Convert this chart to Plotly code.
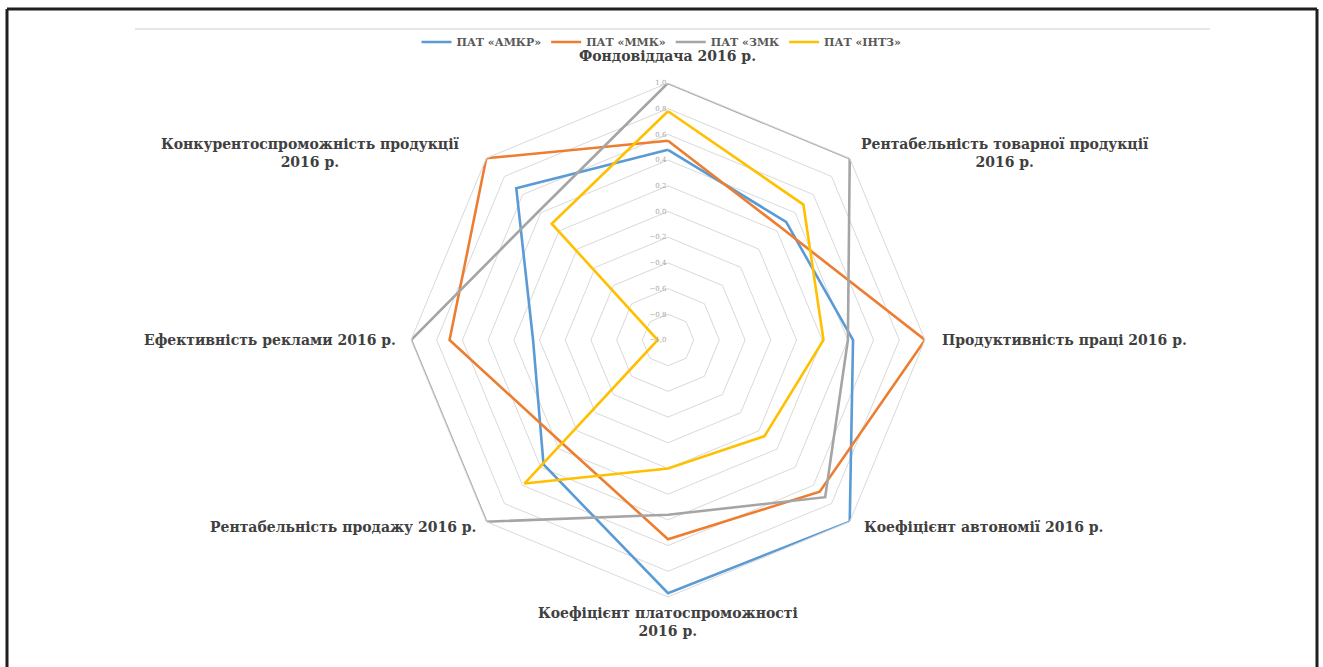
import plotly.graph_objects as go

# Indicator names (axes of the radar), clockwise from the top
categories = [
    "Фондовіддача 2016 р.",
    "Рентабельність товарної продукції\n2016 р.",
    "Продуктивність праці 2016 р.",
    "Коефіцієнт автономії 2016 р.",
    "Коефіцієнт платоспроможності\n2016 р.",
    "Рентабельність продажу 2016 р.",
    "Ефективність реклами 2016 р.",
    "Конкурентоспроможність продукції\n2016 р.",
]

series_names = ["ПАТ «АМКР»", "ПАТ «ММК»", "ПАТ «ЗМК", "ПАТ «ІНТЗ»"]

amkr = [0.48, 0.30, 0.44, 1.00, 0.97, 0.37, 0.05, 0.67]
mmk = [0.55, 0.24, 1.00, 0.67, 0.55, 0.15, 0.70, 1.00]
zmk = [1.00, 1.00, 0.40, 0.73, 0.36, 1.00, 1.00, 0.42]
intz = [0.78, 0.49, 0.21, 0.06, 0.00, 0.58, -0.92, 0.28]

radial_ticks = [-1.0, -0.8, -0.6, -0.4, -0.2, 0.0, 0.2, 0.4, 0.6, 0.8, 1.0]

colors = ["#5b9bd5", "#ed7d31", "#a5a5a5", "#ffc000"]

W, H = 1323, 667
SERIF = "DejaVu Serif"

fig = go.Figure()
theta = [c.replace("\n", " ") for c in categories]
for name, vals, col in zip(series_names, [amkr, mmk, zmk, intz], colors):
    fig.add_trace(go.Scatterpolar(
        r=vals + vals[:1],
        theta=theta + theta[:1],
        mode="lines",
        name=name,
        line=dict(color=col, width=2.6),
    ))

# polar area: centre (668, 340) px, radius ~257 px
cx, cy, rad = 668, 340, 257
dom_x = [(cx - rad) / W, (cx + rad) / W]
dom_y = [1 - (cy + rad) / H, 1 - (cy - rad) / H]

fig.update_layout(
    width=W, height=H,
    margin=dict(l=0, r=0, t=0, b=0),
    paper_bgcolor="white",
    separators=", ",
    font=dict(family=SERIF, color="#595959", weight="bold"),
    polar=dict(
        domain=dict(x=dom_x, y=dom_y),
        bgcolor="white",
        gridshape="linear",
        angularaxis=dict(
            direction="clockwise", rotation=90,
            showticklabels=False, ticks="",
            showgrid=False,
            linecolor="#d9d9d9", linewidth=1,
        ),
        radialaxis=dict(
            range=[-1, 1], tickvals=radial_ticks, tickformat=".1f",
            angle=90, tickangle=90, side="counterclockwise",
            showline=False, ticks="",
            gridcolor="#d9d9d9", gridwidth=1,
            tickfont=dict(size=7, color="#a6a6a6", weight="normal"),
        ),
    ),
    legend=dict(
        orientation="h", x=0.5, xanchor="center",
        y=1 - 42 / H, yanchor="middle",
        font=dict(size=11, color="#595959", family=SERIF),
        itemwidth=30, tracegroupgap=0,
        bgcolor="rgba(0,0,0,0)",
    ),
    showlegend=True,
)

# axis captions
label_pos = [
    (668, 56, "center"),
    (1005, 153, "center"),
    (940, 340, "left"),
    (862, 527, "left"),
    (668, 622, "center"),
    (478, 527, "right"),
    (398, 340, "right"),
    (310, 153, "center"),
]
for text, (px, py, al) in zip(categories, label_pos):
    fig.add_annotation(
        x=px / W, y=1 - py / H, xref="paper", yref="paper",
        text=text.replace("\n", "<br>"), showarrow=False,
        xanchor=al, yanchor="middle", align="center",
        font=dict(size=14, color="#404040", family=SERIF, weight="bold"),
    )

# frame and chart-area top edge
frame = dict(color="#1f1f1f", width=3)
fig.add_shape(type="line", xref="paper", yref="paper",
              x0=7 / W, x1=1317 / W, y0=1 - 9 / H, y1=1 - 9 / H, line=frame)
fig.add_shape(type="line", xref="paper", yref="paper",
              x0=7 / W, x1=7 / W, y0=1 - 9 / H, y1=-0.1, line=frame)
fig.add_shape(type="line", xref="paper", yref="paper",
              x0=1317 / W, x1=1317 / W, y0=1 - 9 / H, y1=-0.1, line=frame)
fig.add_shape(type="line", xref="paper", yref="paper",
              x0=135 / W, x1=1210 / W, y0=1 - 29 / H, y1=1 - 29 / H,
              line=dict(color="#e6e6e6", width=2))

fig.write_html("out.html")
